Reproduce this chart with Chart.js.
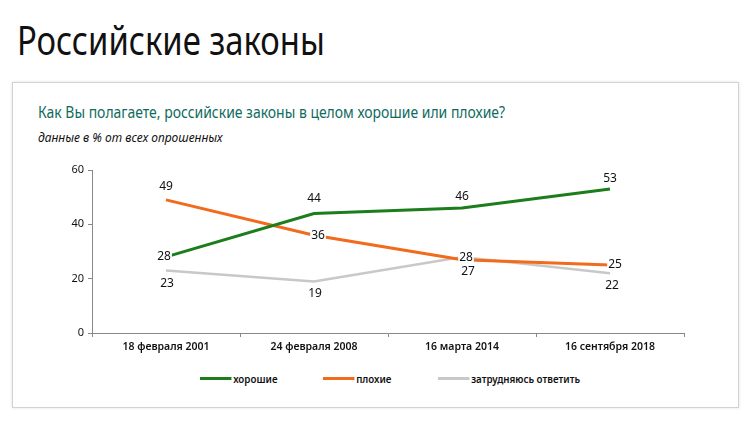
<!DOCTYPE html>
<html>
<head>
<meta charset="utf-8">
<script src="https://cdn.jsdelivr.net/npm/chart.js@4.4.0/dist/chart.umd.min.js"></script>
<style>
  body { margin: 0; width: 754px; height: 424px; background: #fff; position: relative; overflow: hidden; font-family: "Noto Sans", sans-serif; }
  #title { position: absolute; left: 17px; top: 12px; font-size: 40px; color: #111; transform: scaleX(0.82); transform-origin: left top; white-space: nowrap; }
  #box { position: absolute; left: 12px; top: 82px; width: 725px; height: 324px; border: 1px solid #d2d2d2; box-shadow: 0 0 3px rgba(0,0,0,0.12); }
  #sub { position: absolute; left: 38px; top: 101px; font-size: 15.5px; color: #0f6b5e; transform: scaleX(0.9); transform-origin: left top; white-space: nowrap; }
  #note { position: absolute; left: 38px; top: 129px; font-size: 12.5px; font-style: italic; color: #111; transform: scaleX(0.96); transform-origin: left top; white-space: nowrap; }
  #wrap { position: absolute; left: 40px; top: 150px; width: 700px; height: 215px; }
  .item { position: absolute; top: 371px; display: flex; align-items: center; font-size: 11.5px; font-weight: 600; color: #111; white-space: nowrap; transform: scaleX(0.85); transform-origin: left center; }
  .sw { display: inline-block; width: 37px; height: 3px; margin-right: 2px; }
</style>
</head>
<body>
<div id="title">Российские законы</div>
<div id="box"></div>
<div id="sub">Как Вы полагаете, российские законы в целом хорошие или плохие?</div>
<div id="note">данные в % от всех опрошенных</div>
<div id="wrap"><canvas id="myChart"></canvas></div>
<script>
// данные
const dates = ['18 февраля 2001', '24 февраля 2008', '16 марта 2014', '16 сентября 2018'];
const good = [28, 44, 46, 53];
const bad = [49, 36, 27, 25];
const unsure = [23, 19, 28, 22];
const yTicks = [0, 20, 40, 60];

const seriesNames = ['хорошие', 'плохие', 'затрудняюсь ответить'];
const colors = ['#1b7d1b', '#f26a1b', '#c8c8c8'];

// где подписи стоят относительно точки (px)
const labelShift = [
  [[-2, 0], [0, -15], [0, -11], [0, -10]],
  [[0, -13], [4, 0], [6, 12], [5, -1]],
  [[1, 13], [1, 12], [4, 1], [2, 12]]
];
const legendX = [200, 323, 438];

const valueLabels = {
  id: 'valueLabels',
  afterDatasetsDraw(chart) {
    const c = chart.ctx;
    c.save();
    c.font = '12px "Noto Sans", sans-serif';
    c.textAlign = 'center';
    c.textBaseline = 'middle';
    chart.data.datasets.forEach(function (ds, i) {
      chart.getDatasetMeta(i).data.forEach(function (pt, j) {
        const t = String(ds.data[j]);
        const x = pt.x + labelShift[i][j][0];
        const y = pt.y + labelShift[i][j][1];
        const w = c.measureText(t).width;
        c.fillStyle = '#fff';
        c.fillRect(x - w / 2 - 1, y - 6, w + 2, 12);
        c.fillStyle = '#111';
        c.fillText(t, x, y);
      });
    });
    c.restore();
  }
};

const ctx = document.getElementById('myChart');
new Chart(ctx, {
  type: 'line',
  data: {
    labels: dates,
    datasets: [
      { label: seriesNames[0], data: good, borderColor: colors[0], borderWidth: 3 },
      { label: seriesNames[1], data: bad, borderColor: colors[1], borderWidth: 3 },
      { label: seriesNames[2], data: unsure, borderColor: colors[2], borderWidth: 2.5 }
    ]
  },
  options: {
    responsive: true,
    maintainAspectRatio: false,
    animation: false,
    elements: { point: { radius: 0 }, line: { tension: 0 } },
    layout: { padding: { top: 20, right: 56, left: 0, bottom: 0 } },
    plugins: { legend: { display: false }, tooltip: { enabled: false } },
    scales: {
      x: {
        offset: true,
        grid: { offset: true, drawOnChartArea: false, tickLength: 4, color: '#888' },
        border: { color: '#888' },
        ticks: { color: '#111', font: { size: 10.5, weight: '600', family: '"Noto Sans", sans-serif' }, padding: 4, maxRotation: 0 },
        afterFit(s) { s.height = 32; }
      },
      y: {
        min: 0, max: 60,
        afterBuildTicks(s) { s.ticks = yTicks.map(function (v) { return { value: v }; }); },
        grid: { drawOnChartArea: false, tickLength: 4, color: '#888' },
        border: { color: '#888' },
        ticks: { color: '#111', font: { size: 11, family: '"Noto Sans", sans-serif' }, padding: 4 },
        afterFit(s) { s.width = 52; }
      }
    }
  },
  plugins: [valueLabels]
});

// легенда
seriesNames.forEach(function (n, i) {
  const it = document.createElement('div');
  it.className = 'item';
  it.style.left = legendX[i] + 'px';
  const sw = document.createElement('span');
  sw.className = 'sw';
  sw.style.background = colors[i];
  it.appendChild(sw);
  it.appendChild(document.createTextNode(n));
  document.body.appendChild(it);
});
</script>
</body>
</html>
